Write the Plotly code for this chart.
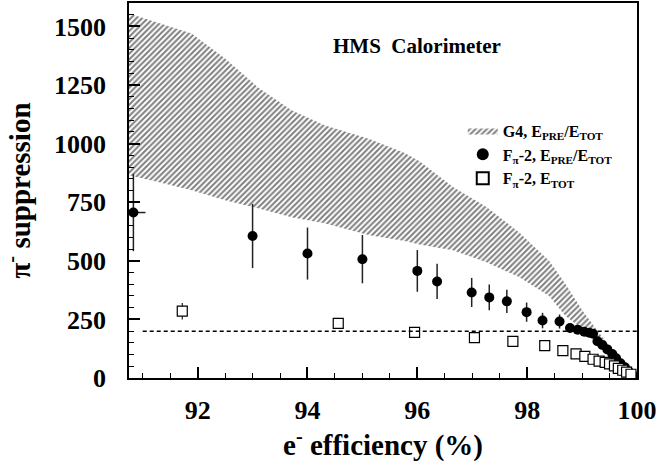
import plotly.graph_objects as go

# ---- data ----
band_x = [90.75, 91.3, 91.89, 92.5, 93.1, 93.71, 94.31, 95.13, 95.77, 96.04, 96.65, 97.26,
          97.86, 98.4, 98.7, 99.0, 99.3, 99.6, 99.86, 100.0]
band_upper = [1555, 1515, 1470, 1363, 1240, 1142, 1078, 1020, 960, 925, 815, 730,
              620, 500, 400, 290, 195, 106, 21, 0]
band_lower = [865, 835, 801, 758, 724, 686, 660, 609, 585, 570, 545, 494,
              430, 350, 265, 210, 170, 95, 20, 0]

pre_x = [90.83, 93.0, 94.0, 95.0, 96.0, 96.36, 96.99, 97.31, 97.63, 97.99, 98.28, 98.59,
         98.78, 98.92, 99.04, 99.13, 99.2, 99.28, 99.37, 99.46, 99.55, 99.62, 99.7,
         99.78, 99.85, 99.91, 99.96]
pre_y = [706, 606, 531, 507, 457, 412, 365, 344, 327, 281, 245, 241,
         213, 206, 197, 193, 189, 157, 141, 122, 102, 84, 63,
         46, 28, 14, 5]
pre_ey = [165, 137, 111, 103, 89, 75, 62, 55, 50, 41, 33, 30,
          0, 0, 0, 0, 0, 0, 0, 0, 0, 0, 0, 0, 0, 0, 0]
pre_ex = [0.22, 0.06, 0.06, 0.06, 0.06, 0.06, 0.06, 0.06, 0.06, 0.06, 0.06, 0.06,
          0, 0, 0, 0, 0, 0, 0, 0, 0, 0, 0, 0, 0, 0, 0]

tot_x = [91.72, 94.56, 95.95, 97.04, 97.74, 98.32, 98.65, 98.89, 99.05, 99.2, 99.31,
         99.42, 99.5, 99.59, 99.66, 99.74, 99.81, 99.89]
tot_y = [285, 233, 195, 172, 156, 138, 117, 103, 92, 80, 72, 67, 60, 52, 41, 33, 25, 16]
tot_ey = [35, 18, 0, 0, 0, 0, 0, 0, 0, 0, 0, 0, 0, 0, 0, 0, 0, 0]

cut_level = 200
cut_start = 91.0

FONT = "Liberation Serif, Times New Roman, Times, serif"

fig = go.Figure()

fig.add_trace(go.Scatter(
    x=band_x + band_x[::-1], y=band_upper + band_lower[::-1],
    fill="toself", mode="lines", line=dict(width=0, color="black"),
    fillcolor="rgba(0,0,0,0)",
    fillpattern=dict(shape="/", fgcolor="black", bgcolor="white", size=4, solidity=0.5),
    name="G4, E<sub>PRE</sub>/E<sub>TOT</sub>",
))

fig.add_trace(go.Scatter(
    x=pre_x, y=pre_y, mode="markers",
    marker=dict(symbol="circle", size=10, color="black"),
    error_y=dict(type="data", array=pre_ey, width=0, thickness=1.5, color="#222"),
    error_x=dict(type="data", array=pre_ex, width=0, thickness=1.5, color="#222"),
    name="F<sub>π</sub>-2, E<sub>PRE</sub>/E<sub>TOT</sub>",
))

fig.add_trace(go.Scatter(
    x=tot_x, y=tot_y, mode="markers",
    marker=dict(symbol="square", size=10, color="white", line=dict(color="black", width=1.2)),
    error_y=dict(type="data", array=tot_ey, width=0, thickness=1.2, color="#222"),
    name="F<sub>π</sub>-2, E<sub>TOT</sub>",
))

fig.add_shape(type="line", x0=cut_start, x1=100, y0=cut_level, y1=cut_level,
              xref="x", yref="y", line=dict(color="black", width=1.5, dash="4px,3px"))

fig.add_annotation(text="<b>HMS  Calorimeter</b>", xref="paper", yref="paper",
                   x=0.567, y=0.923, showarrow=False,
                   font=dict(family=FONT, size=21, color="black"))

fig.update_layout(
    width=658, height=466,
    margin=dict(l=129, r=21, t=3, b=88, autoexpand=False),
    paper_bgcolor="white", plot_bgcolor="white",
    showlegend=True,
    legend=dict(x=0.657, y=0.705, xanchor="left", yanchor="top",
                bgcolor="rgba(0,0,0,0)", font=dict(family=FONT, size=16, color="black", weight="bold"),
                itemsizing="constant", tracegroupgap=0),
    font=dict(family=FONT, color="black"),
)

fig.update_xaxes(
    range=[90.75, 100], tickmode="array", tickvals=[92, 94, 96, 98, 100],
    automargin=False,
    ticks="inside", ticklen=11, tickwidth=1.5, tickcolor="black",
    minor=dict(dtick=0.5, tick0=90, ticks="inside", ticklen=5, tickwidth=1.2, tickcolor="black"),
    showline=True, linecolor="black", linewidth=1.5, mirror=True, showgrid=False, zeroline=False,
    tickfont=dict(family=FONT, size=26, color="black", weight="bold"),
    ticklabelstandoff=8,
    title=dict(text="<b>e<sup>-</sup> efficiency (%)</b>", standoff=2,
               font=dict(family=FONT, size=29, color="black")),
)
fig.update_yaxes(
    range=[0, 1600], tickmode="array", tickvals=[0, 250, 500, 750, 1000, 1250, 1500],
    automargin=False,
    ticks="inside", ticklen=11, tickwidth=1.5, tickcolor="black",
    minor=dict(dtick=50, tick0=0, ticks="inside", ticklen=5, tickwidth=1.2, tickcolor="black"),
    showline=True, linecolor="black", linewidth=1.5, mirror=True, showgrid=False, zeroline=False,
    tickfont=dict(family=FONT, size=26, color="black", weight="bold"),
    ticklabelstandoff=16,
    title=dict(text="<b>π<sup>-</sup> suppression</b>", standoff=16,
               font=dict(family=FONT, size=29, color="black")),
)

fig.write_html("out.html", post_script="document.body.style.margin='0px';",
               config={"displayModeBar": False})
